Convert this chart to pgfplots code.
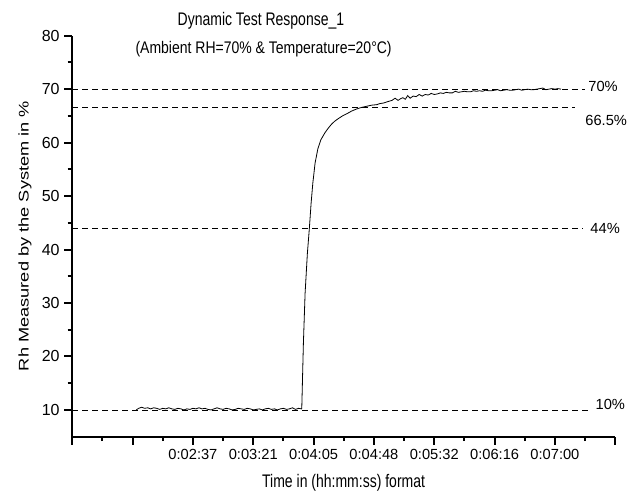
\documentclass[border=0pt]{standalone}
\usepackage{pgfplots}
\pgfplotsset{compat=1.18}
\usepackage{fontspec}
\setmainfont{Liberation Sans}
\begin{document}
\begin{tikzpicture}
\useasboundingbox (-54.2pt,-44.5pt) rectangle (428.8pt,327.5pt);
\begin{axis}[
  at={(0pt,0pt)}, anchor=south west,
  scale only axis, width=407.25pt, height=300.75pt,
  xmin=0, xmax=9, ymin=5, ymax=80,
  axis x line*=bottom, axis y line*=left,
  xtick={0,1,2,3,4,5,6,7,8,9},
  xticklabels={,,0:02:37,0:03:21,0:04:05,0:04:48,0:05:32,0:06:16,0:07:00,},
  ytick={10,20,30,40,50,60,70,80},
  minor x tick num=1, minor y tick num=1,
  tick align=outside,
  major tick length=6pt, minor tick length=3.4pt,
  tick style={black, line width=1.5pt},
  minor tick style={black, line width=1.5pt},
  axis line style={black, line width=1.5pt},
  xticklabel style={font=\fontsize{11}{13}\selectfont},
  yticklabel style={font=\fontsize{12}{14}\selectfont},
  /pgf/number format/assume math mode=true,
  clip=false,
]
% reference lines
\addplot[black, line width=0.6pt, dash pattern=on 4.5pt off 3pt] coordinates {(0,70) (8.50,70)};
\addplot[black, line width=0.6pt, dash pattern=on 4.5pt off 3pt] coordinates {(0,66.5) (8.33,66.5)};
\addplot[black, line width=0.6pt, dash pattern=on 4.5pt off 3pt] coordinates {(0,44) (8.47,44)};
\addplot[black, line width=0.6pt, dash pattern=on 4.5pt off 3pt] coordinates {(0,10) (8.585,10)};
% response curve
\addplot[black, line width=0.6pt] coordinates {
(1.06,10.0) (1.10,10.3) (1.15,10.5) (1.20,10.3) (1.25,10.4) (1.30,10.2) (1.35,10.4) (1.40,10.3)
(1.45,10.1) (1.50,10.3) (1.55,10.2) (1.60,10.4) (1.65,10.2) (1.70,10.1) (1.75,10.3) (1.80,10.2)
(1.85,10.0) (1.90,10.2) (1.95,10.1) (2.00,10.3) (2.05,10.2) (2.10,10.4) (2.15,10.2) (2.20,10.3)
(2.25,10.1) (2.30,10.0) (2.35,10.2) (2.40,10.4) (2.45,10.2) (2.50,10.1) (2.55,10.3) (2.60,10.2)
(2.65,10.0) (2.70,10.1) (2.75,10.3) (2.80,10.2) (2.85,10.1) (2.90,10.3) (2.95,10.2) (3.00,10.0)
(3.05,10.1) (3.10,10.2) (3.15,10.0) (3.20,10.2) (3.25,10.3) (3.30,10.1) (3.35,10.2) (3.40,10.0)
(3.45,10.2) (3.50,10.3) (3.55,10.1) (3.60,10.2) (3.65,10.4) (3.70,10.1) (3.75,10.3) (3.80,10.2)
(3.804,10.3) (3.831,22.5) (3.859,31.8) (3.897,39.3) (3.930,44.0) (3.959,48.7) (3.987,52.4)
(4.025,56.2) (4.070,58.8) (4.119,60.5) (4.191,61.9) (4.25,62.8) (4.302,63.5) (4.35,64.0)
(4.411,64.5) (4.48,65.0) (4.551,65.4) (4.63,65.9) (4.716,66.3) (4.80,66.6) (4.882,66.8)
(4.96,67.0) (5.048,67.1) (5.10,67.3) (5.158,67.4) (5.24,67.7) (5.30,67.9) (5.35,68.3)
(5.40,67.9) (5.44,68.2) (5.48,68.4) (5.52,68.1) (5.56,68.8) (5.60,68.3) (5.65,68.7) (5.70,68.6)
(5.75,69.0) (5.80,68.7) (5.85,69.0) (5.90,68.9) (5.95,69.2) (6.00,69.0) (6.05,69.1)
(6.10,69.3) (6.15,69.2) (6.20,69.4) (6.25,69.3) (6.30,69.3) (6.35,69.6) (6.40,69.4)
(6.45,69.5) (6.50,69.6) (6.55,69.5) (6.60,69.5) (6.65,69.7) (6.70,69.6) (6.75,69.7)
(6.80,69.6) (6.85,69.8) (6.90,69.7) (6.95,69.7) (7.00,69.8) (7.05,69.9) (7.10,69.7)
(7.15,69.8) (7.20,69.9) (7.25,69.8) (7.30,69.8) (7.35,69.9) (7.40,70.0) (7.45,69.8)
(7.50,69.9) (7.55,70.0) (7.60,69.9) (7.65,69.9) (7.70,70.0) (7.75,70.1) (7.80,70.2)
(7.85,69.9) (7.90,70.0) (7.95,70.1) (8.00,70.0) (8.05,70.1) (8.10,70.0)
};
\node[anchor=west, inner sep=0pt, font=\fontsize{11}{13}\selectfont] at (axis cs:8.55,70.5) {70\%};
\node[anchor=north west, inner sep=0pt, font=\fontsize{11}{13}\selectfont] at (axis cs:8.50,65.2) {66.5\%};
\node[anchor=west, inner sep=0pt, font=\fontsize{11}{13}\selectfont] at (axis cs:8.585,44) {44\%};
\node[anchor=west, inner sep=0pt, font=\fontsize{11}{13}\selectfont] at (axis cs:8.67,11.1) {10\%};
\end{axis}
\node[anchor=base, font=\fontsize{10.5}{12}\selectfont] at (141.5pt,308pt) {\scalebox{1}[1.3]{Dynamic Test Response\_1}};
\node[anchor=base, font=\fontsize{10.5}{12}\selectfont] at (143.5pt,287.5pt) {\scalebox{1}[1.2]{(Ambient RH=70\% \& Temperature=20°C)}};
\node[anchor=base, font=\fontsize{10.5}{12}\selectfont] at (203.5pt,-38.5pt) {\scalebox{1}[1.3]{Time in (hh:mm:ss) format}};
\node[rotate=90, anchor=center, font=\fontsize{10.5}{12}\selectfont] at (-35.5pt,150.5pt) {\scalebox{1.3}[1]{Rh Measured by the System in \%}};
\end{tikzpicture}
\end{document}
